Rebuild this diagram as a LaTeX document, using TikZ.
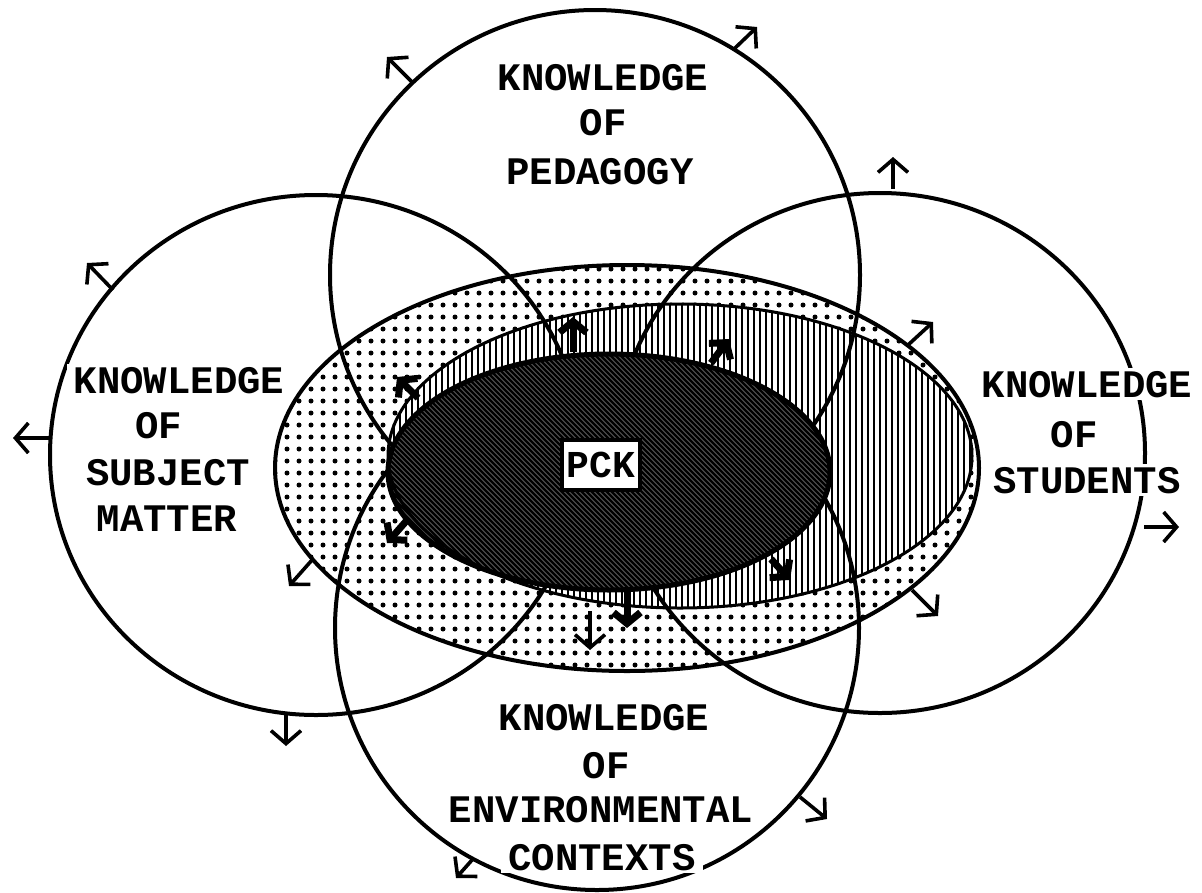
\documentclass[tikz,border=0pt]{standalone}
\usepackage{fontspec}
\newfontfamily\lblfont{Liberation Mono}
\usetikzlibrary{arrows.meta}
\begin{document}
\begin{tikzpicture}[x=1pt,y=-1pt,
  ring/.style={line width=4pt},
  lbl/.style={font=\lblfont\bfseries\fontsize{39}{39}\selectfont, fill=white, inner xsep=7pt, inner ysep=3pt, anchor=base},
  thinarr/.style={line width=3.6pt, -{Straight Barb[length=13pt,width=30pt]}},
  thickarr/.style={line width=7pt, -{Straight Barb[length=11pt,width=27pt]}},
]
\useasboundingbox (0,0) rectangle (1202,892);
\fill[white] (0,0) rectangle (1202,892);

% large dotted ellipse
\begin{scope}
  \clip (627,468) ellipse[x radius=352pt, y radius=203pt];
  \foreach \yy in {269,281,...,671}
    \draw[line width=5pt, line cap=round, dash pattern=on 0pt off 12pt] (275,\yy) -- (985,\yy);
\end{scope}

% middle ellipse (vertical texture)
\fill[white] (680,456) ellipse[x radius=292pt, y radius=152pt];
\begin{scope}
  \clip (680,456) ellipse[x radius=292pt, y radius=152pt];
  \foreach \xx in {388,394,...,976}
    \draw[line width=2.8pt] (\xx,300) -- (\xx,612);
\end{scope}

% four knowledge circles
\draw[ring] (595,275) circle[radius=265pt];
\draw[ring] (316,455) ellipse[x radius=266pt, y radius=260pt];
\draw[ring] (880,453) ellipse[x radius=265pt, y radius=260pt];
\draw[ring] (597,628) circle[radius=262pt];

% dark inner ellipse
\fill[white] (609,472) ellipse[x radius=221pt, y radius=118pt];
\begin{scope}
  \clip (609,472) ellipse[x radius=221pt, y radius=118pt];
  \foreach \c in {-215,-210,...,480}
    \draw[line width=2.9pt] (\c+340,340) -- (\c+620,620);
\end{scope}

% outlines
\draw[line width=4pt] (627,468) ellipse[x radius=352pt, y radius=203pt];
\draw[line width=3pt] (680,456) ellipse[x radius=292pt, y radius=152pt];
\draw[line width=5pt] (609,472) ellipse[x radius=221pt, y radius=118pt];

% labels
\node[lbl] (p1) at (603,90) {KNOWLEDGE};
\node[lbl] (p2) at (603,135) {OF};
\node[lbl] (p3) at (600,184) {PEDAGOGY};

\node[lbl] (s1) at (179,393) {KNOWLEDGE};
\node[lbl] (s2) at (159,438) {OF};
\node[lbl] (s3) at (168,485) {SUBJECT};
\node[lbl] (s4) at (167,531) {MATTER};

\node[lbl] (t1) at (1087,397) {KNOWLEDGE};
\node[lbl] (t2) at (1074,447) {OF};
\node[lbl] (t3) at (1087,493) {STUDENTS};

\node[lbl] (e1) at (604,730) {KNOWLEDGE};
\node[lbl] (e2) at (606,778) {OF};
\node[lbl] (e3) at (601,822) {ENVIRONMENTAL};
\node[lbl] (e4) at (602,870) {CONTEXTS};

% PCK
\node[draw, line width=3.5pt, fill=white, minimum width=78pt, minimum height=50pt, inner sep=0pt,
      font=\lblfont\bfseries\fontsize{38}{38}\selectfont] (pck) at (601,465) {PCK};

% thin outward arrows
\draw[thinarr] (413,83) -- (387,57);
\draw[thinarr] (733,50) -- (757,27);
\draw[thinarr] (113,290) -- (87,263);
\draw[thinarr] (50,438) -- (13,438);
\draw[thinarr] (286,713) -- (286,746);
\draw[thinarr] (893,189) -- (893,157);
\draw[thinarr] (1144,527) -- (1179,527);
\draw[thinarr] (800,797) -- (827,819);
\draw[thinarr] (472,860) -- (456,878);
\draw[thinarr] (908,345) -- (933,322);
\draw[thinarr] (912,590) -- (938,616);
\draw[thinarr] (312,560) -- (289,586);
\draw[thinarr] (590,611) -- (590,650);

% thick arrows from PCK ellipse
\draw[thickarr] (418,398) -- (397,377);
\draw[thickarr] (573,352) -- (573,317);
\draw[thickarr] (711,363) -- (729,339);
\draw[thickarr] (408,519) -- (387,543);
\draw[thickarr] (771,559) -- (790,580);
\draw[thickarr] (627,590) -- (627,628);
\end{tikzpicture}
\end{document}
